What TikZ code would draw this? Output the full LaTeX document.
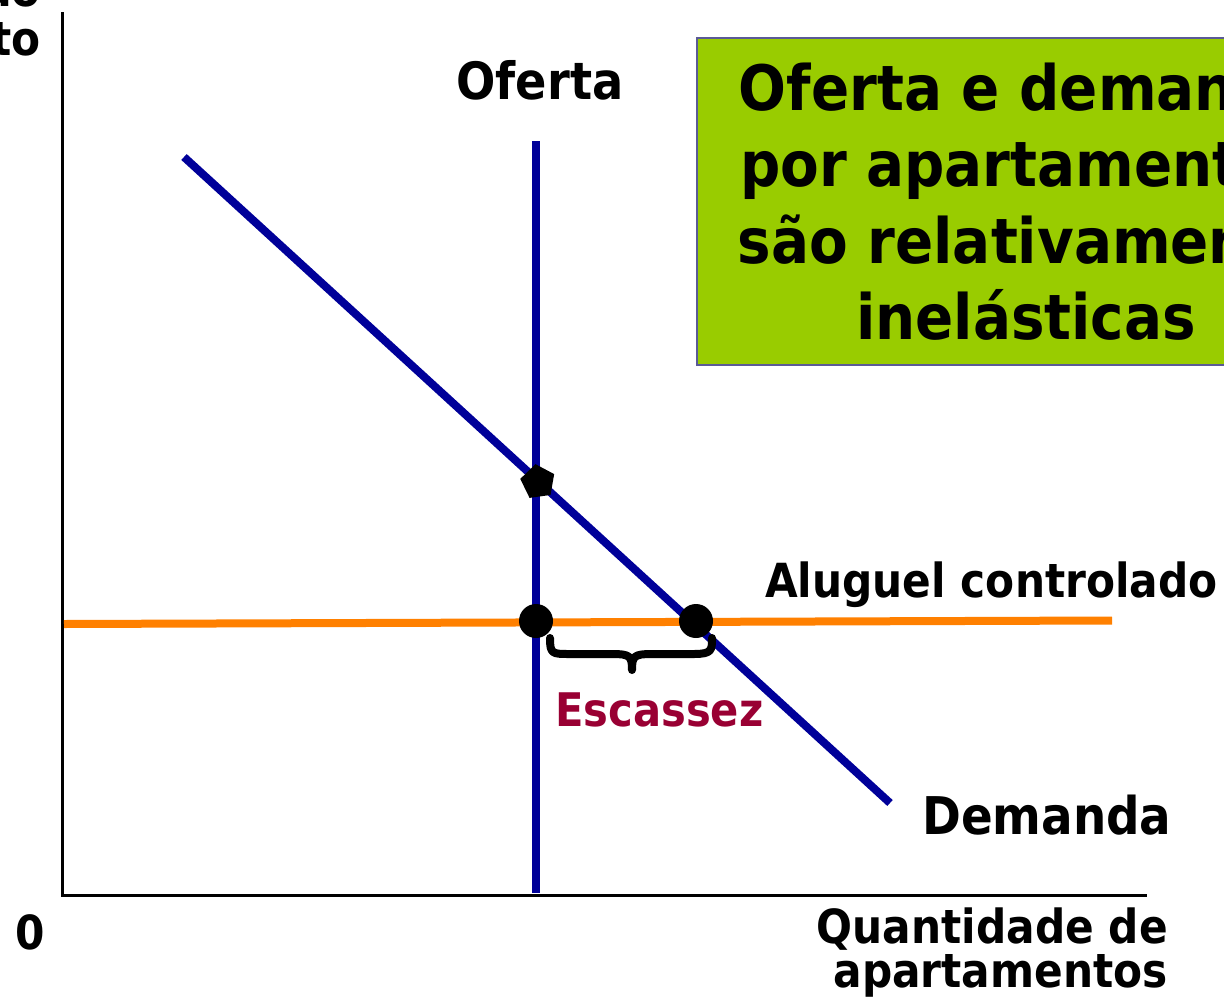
\documentclass[tikz,border=0pt]{standalone}
\usepackage{fontspec}
\setmainfont{DejaVu Sans}[FakeStretch=0.9]
\usetikzlibrary{shapes.geometric}
\definecolor{curveblue}{RGB}{0,0,153}
\definecolor{rentorange}{RGB}{255,128,0}
\definecolor{boxgreen}{RGB}{153,204,0}
\definecolor{boxedge}{RGB}{90,90,150}
\definecolor{shortred}{RGB}{153,0,51}
\tikzset{
  lbl/.style={inner sep=0pt, font=\bfseries\fontsize{47}{56}\selectfont, text=black},
  curve/.style={line width=8pt, curveblue},
  dotmark/.style={circle, fill=black, minimum size=34pt, inner sep=0pt},
}
\begin{document}
\begin{tikzpicture}[x=1pt,y=-1pt]
\useasboundingbox (0,0) rectangle (1224,999);
\clip (0,0) rectangle (1224,999);
% axes
\coordinate (O) at (62,895);
\coordinate (ytop) at (62,12);
\coordinate (xend) at (1147,895);
\draw[line width=3pt] (ytop) -- (O) -- (xend);
% y label (cropped)
\node[lbl, anchor=base east] (ylab1) at (41,6) {ão};
\node[lbl, anchor=base east] (ylab2) at (41,55) {to};
% green box
\node[draw=boxedge, line width=2pt, fill=boxgreen, anchor=north west,
      minimum width=658pt, minimum height=327pt, inner sep=0pt, align=center,
      font=\bfseries\fontsize{62.6}{76.5}\selectfont] (box) at (696,37)
      {Oferta e demanda\\por apartamentos\\são relativamente\\inelásticas};
% curves
\coordinate (s1) at (536,141);
\coordinate (s2) at (536,893);
\coordinate (d1) at (184,157);
\coordinate (d2) at (890,803);
\coordinate (r1) at (64,624);
\coordinate (r2) at (1112,620.5);
\draw[line width=8pt, rentorange] (r1) -- (r2);
\draw[curve] (s1) -- (s2);
\draw[curve] (d1) -- (d2);
% markers
\node[regular polygon, regular polygon sides=5, fill=black, minimum size=36pt, inner sep=0pt, rotate=8] (eq) at (538,482) {};
\node[dotmark] (qs) at (536,621) {};
\node[dotmark] (qd) at (696,621) {};
% brace
\coordinate (bl) at (550,638);
\coordinate (br) at (712,638);
\coordinate (bt) at (632,670);
\draw[line width=8pt, line cap=round, line join=round]
  (bl) .. controls (550,654) and (552,654) .. (570,654) -- (612,654)
  .. controls (630,654) and (632,656) .. (bt)
  .. controls (632,656) and (634,654) .. (652,654) -- (694,654)
  .. controls (712,654) and (712,650) .. (br);
% labels
\node[lbl, font=\bfseries\fontsize{51.4}{60}\selectfont, anchor=base] (oferta) at (540,99) {Oferta};
\node[lbl, anchor=base west] (aluguel) at (765,597) {Aluguel controlado};
\node[lbl, text=shortred, font=\bfseries\fontsize{46.3}{56}\selectfont, anchor=base west] (esc) at (555,726) {Escassez};
\node[lbl, font=\bfseries\fontsize{52}{60}\selectfont, anchor=base west] (dem) at (922,834) {Demanda};
\node[lbl, anchor=base west] (zero) at (15,949) {0};
\node[lbl, anchor=base east] (xl1) at (1168,943) {Quantidade de};
\node[lbl, anchor=base east] (xl2) at (1168,987) {apartamentos};
\end{tikzpicture}
\end{document}
